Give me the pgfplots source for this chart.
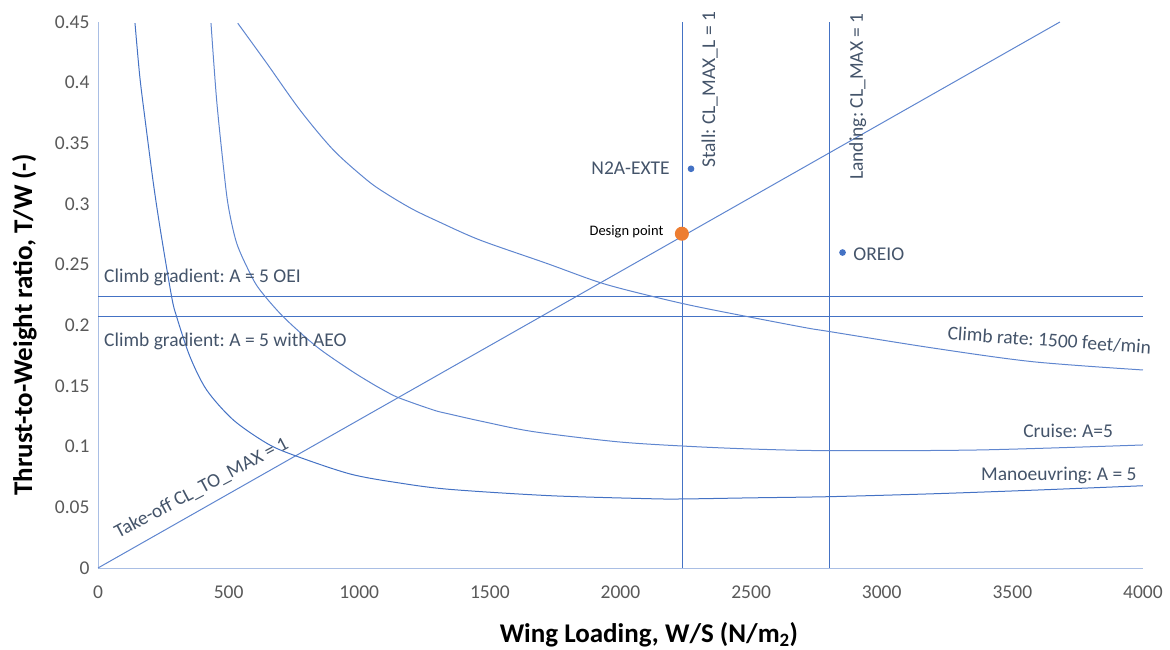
\documentclass[border=0pt]{standalone}
\usepackage{pgfplots}
\pgfplotsset{compat=1.18}
\usepackage{fontspec}
\setmainfont{Carlito}
\frenchspacing
\definecolor{lineblue}{HTML}{4472C4}
\definecolor{curveblue}{HTML}{5F86CF}
\definecolor{txt}{HTML}{44546A}
\definecolor{tickc}{HTML}{595959}
\definecolor{axisc}{HTML}{A9BEE4}
\definecolor{dporange}{HTML}{ED7D31}
\begin{document}
\begin{tikzpicture}
\useasboundingbox (0,0) rectangle (1170bp,650bp);
\begin{axis}[
  at={(98bp,82bp)}, anchor=south west,
  scale only axis, width=1045bp, height=546bp,
  xmin=0, xmax=4000, ymin=0, ymax=0.45,
  axis x line*=bottom, axis y line*=left,
  axis line style={axisc, line width=0.9bp, -},
  xtick={0,500,1000,1500,2000,2500,3000,3500,4000},
  ytick={0,0.05,0.1,0.15,0.2,0.25,0.3,0.35,0.4,0.45},
  major tick length=0pt,
  scaled y ticks=false, scaled x ticks=false,
  tick label style={font=\fontsize{19.5bp}{23bp}\selectfont, text=tickc},
  /pgf/number format/assume math mode=true,
  xticklabel style={/pgf/number format/1000 sep={}, yshift=-14bp},
  yticklabel style={/pgf/number format/.cd, fixed, precision=2, /tikz/.cd, xshift=-5bp},
  clip=false,
  every axis plot/.append style={line width=1bp},
]
% Take-off
\addplot[curveblue] coordinates {(0,0) (3682,0.45)};
% Stall and landing
\addplot[lineblue, line width=1.2bp] coordinates {(2238,0) (2238,0.45)};
\addplot[lineblue, line width=1.2bp] coordinates {(2799,0) (2799,0.45)};
% Climb gradients
\addplot[lineblue] coordinates {(0,0.2234) (4000,0.2234)};
\addplot[lineblue] coordinates {(0,0.2069) (4000,0.2069)};
% Manoeuvring
\addplot[lineblue, smooth] coordinates {
(141.6,0.449) (160,0.405) (180,0.370) (212,0.317) (240,0.277) (282,0.2234)
(301,0.2071) (352,0.1742) (416,0.1467) (518,0.1220) (646,0.1028) (748,0.0931)
(965,0.0775) (1156,0.0700) (1347,0.0648) (1730,0.0596) (2113,0.0571)
(2239,0.0569) (2496,0.0578) (2802,0.0588) (3200,0.0612) (3600,0.0643) (4000,0.0678)};
% Cruise
\addplot[curveblue, smooth] coordinates {
(432.5,0.449) (454,0.386) (480,0.331) (499,0.298) (531,0.2676) (582,0.2429)
(620,0.2291) (709,0.2071) (837,0.1824) (965,0.1632) (1041,0.1530) (1092,0.1467)
(1150,0.1404) (1284,0.1302) (1347,0.1268) (1475,0.1206) (1666,0.1124)
(1985,0.1041) (2240,0.1005) (2496,0.0981) (2802,0.0967) (3376,0.0973) (4000,0.1014)};
% Climb rate
\addplot[curveblue, smooth] coordinates {
(535,0.449) (646,0.416) (773,0.3775) (901,0.3445) (1029,0.3198) (1100,0.3090)
(1200,0.2962) (1300,0.2858) (1462,0.2703) (1717,0.2511) (1922,0.2352) (2100,0.2250)
(2304,0.2149) (2687,0.1989) (2802,0.1948) (3196,0.1813) (3579,0.1700) (4000,0.1632)};
% Reference aircraft
\addplot[only marks, mark=*, mark size=2.8bp, lineblue] coordinates {(2270,0.329) (2850,0.26)};
% Design point
\addplot[only marks, mark=*, mark size=6.5bp, dporange, draw=dporange] coordinates {(2235,0.2755)};

% Labels
\begin{scope}[every node/.style={font=\fontsize{19.5bp}{23bp}\selectfont, text=txt, inner sep=0pt}]
\node[anchor=base west] at (axis cs:23,0.2349) {Climb gradient: A = 5 OEI};
\node[anchor=base west] at (axis cs:23,0.1824) {Climb gradient: A = 5 with AEO};
\node[anchor=base, rotate=-4] at (axis cs:3640,0.1824) {Climb rate: 1500 feet/min};
\node[anchor=base east] at (axis cs:3886,0.1077) {Cruise: A=5};
\node[anchor=base east] at (axis cs:3976,0.0720) {Manoeuvring: A = 5};
\node[anchor=base, rotate=28] at (axis cs:406,0.0618) {Take-off CL\_TO\_MAX = 1};
\node[anchor=base west, rotate=90] at (axis cs:2362,0.3297) {Stall: CL\_MAX\_L = 1};
\node[anchor=base west, rotate=90] at (axis cs:2928,0.3198) {Landing: CL\_MAX = 1};
\node[anchor=base east] at (axis cs:2189,0.3239) {N2A-EXTE};
\node[anchor=base west] at (axis cs:2891,0.2533) {OREIO};
\end{scope}
\node[anchor=base east, inner sep=0pt, font=\fontsize{14.5bp}{17bp}\selectfont, text=black] at (axis cs:2165,0.2737) {Design point};
% Axis titles
\node[anchor=base, rotate=90, inner sep=0pt, font=\fontsize{27bp}{30bp}\selectfont\bfseries] at (axis cs:-252.6,0.2003) {Thrust-to-Weight ratio, T/W (-)};
\node[anchor=base, inner sep=0pt, font=\fontsize{27bp}{30bp}\selectfont\bfseries] at (axis cs:2109,-0.0618) {Wing Loading, W/S (N/m\textsubscript{2})};
\end{axis}
\end{tikzpicture}
\end{document}
